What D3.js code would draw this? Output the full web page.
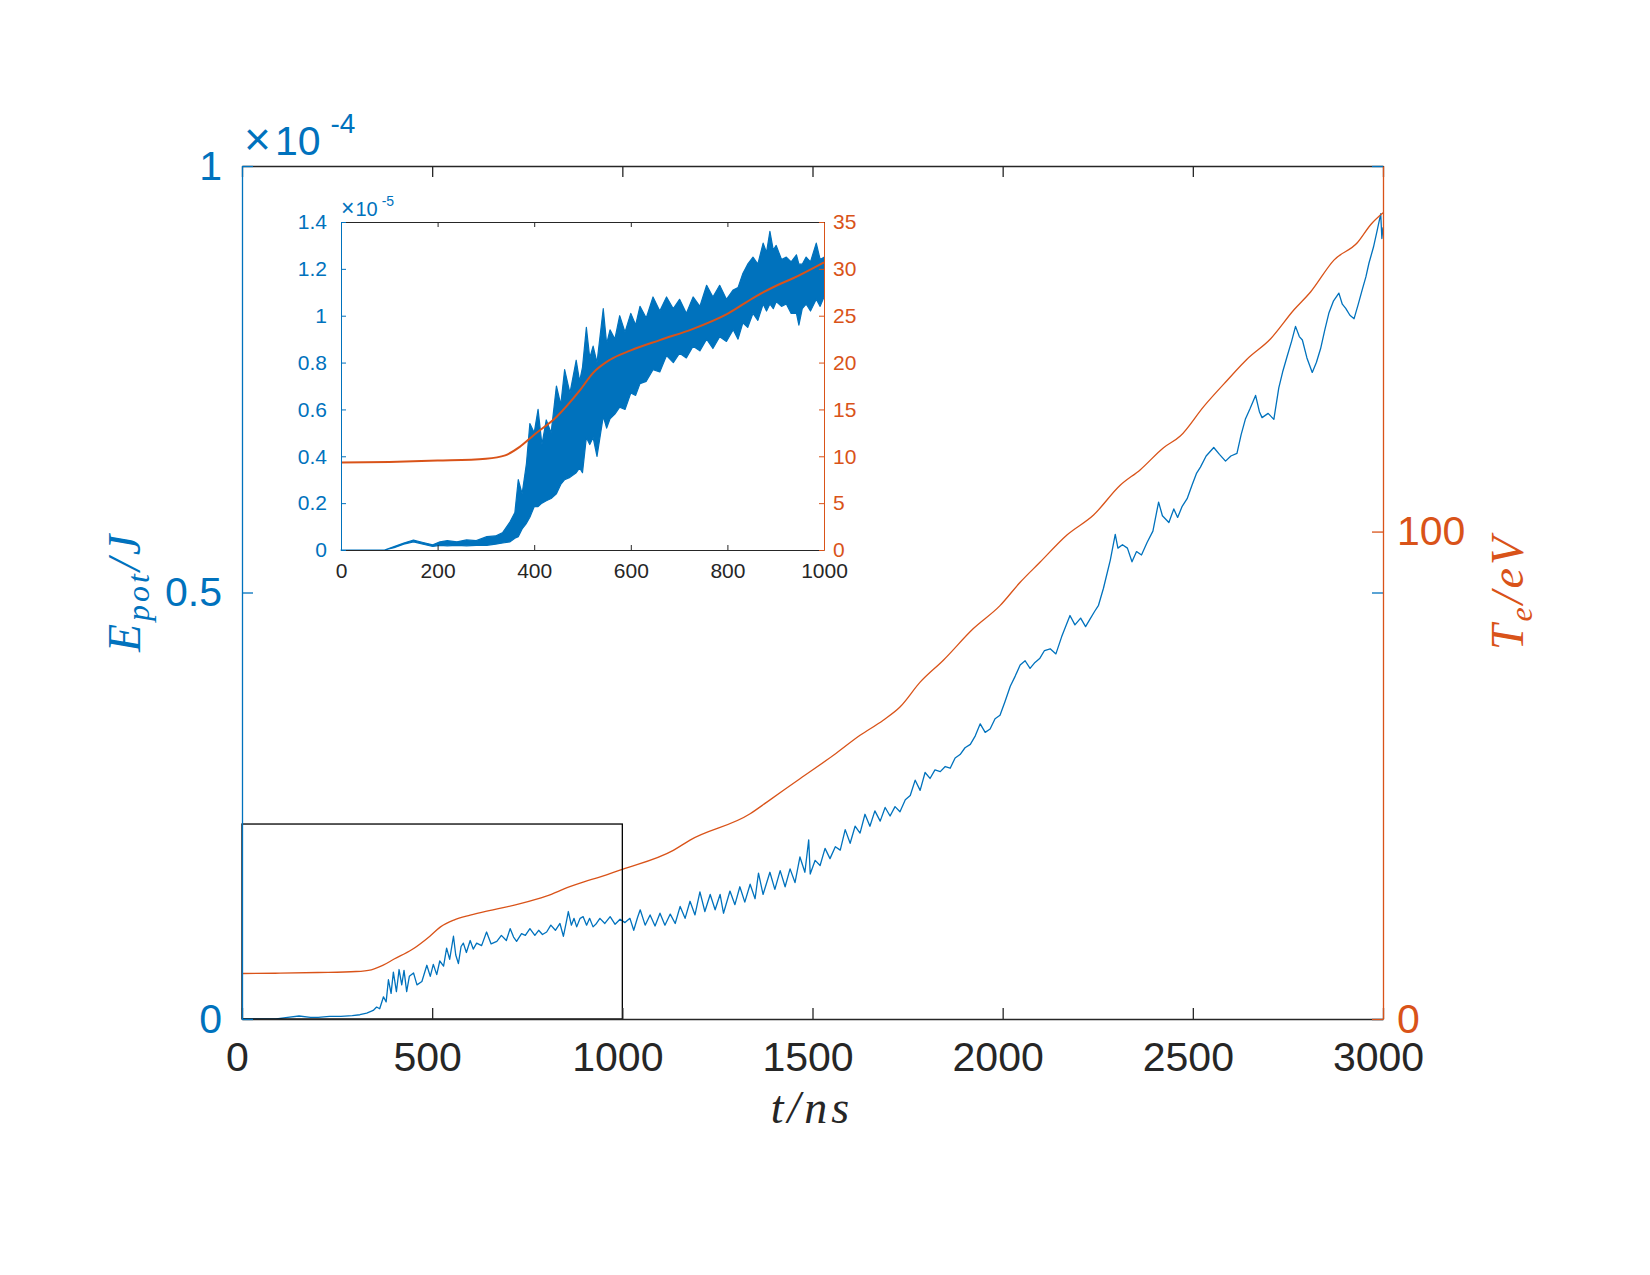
<!DOCTYPE html>
<html>
<head>
<meta charset="utf-8">
<script src="https://cdn.jsdelivr.net/npm/d3@7"></script>
<style>
body { margin: 0; background: #fff; }
</style>
</head>
<body>
<div id="chart"></div>
<script>
// main plot: potential energy (x1e-4 J) vs t (ns)
var tPot = [0, 90, 120, 150, 180, 200, 230, 260, 290, 310, 328, 345, 354, 362, 372, 379, 385, 392, 398, 406, 413, 420, 426, 433, 440, 451, 460, 473, 486, 495, 503, 512, 520, 530, 538, 546, 556, 562, 569, 576, 582, 590, 600, 608, 617, 630, 643, 655, 670, 682, 695, 705, 714, 722, 735, 745, 757, 770, 780, 790, 801, 812, 824, 836, 845, 852, 858, 866, 873, 880, 889, 897, 906, 914, 923, 932,
  941, 954, 968, 981, 994, 1007, 1020, 1030, 1040, 1047, 1060, 1073, 1086, 1099, 1112, 1126, 1139, 1152, 1165, 1178, 1191, 1204, 1217, 1231, 1244, 1257, 1266, 1283, 1296, 1309, 1322, 1336, 1349, 1358, 1370, 1388, 1401, 1415, 1428, 1441, 1454, 1467, 1480, 1490, 1494, 1507, 1520, 1533, 1546, 1560, 1573, 1586, 1599, 1612, 1625, 1638, 1651, 1664, 1678, 1691, 1704, 1717, 1730, 1744, 1757, 1770, 1783, 1796, 1809, 1822, 1836, 1849, 1862, 1875, 1888, 1901, 1915, 1928, 1941, 1954, 1967, 1980, 1993, 2006, 2020, 2033, 2046, 2059, 2072, 2085,
  2098, 2110, 2125, 2140, 2155, 2177, 2190, 2205, 2218, 2230, 2242, 2252, 2265, 2283, 2296, 2303, 2315, 2328, 2340, 2352, 2365, 2380, 2395, 2410, 2420, 2437, 2450, 2460, 2472, 2485, 2498, 2510, 2520, 2535, 2555, 2570, 2586, 2600, 2616, 2627, 2638, 2650, 2665, 2675, 2682, 2698, 2713, 2726, 2737, 2748, 2760, 2770, 2780, 2788, 2800, 2814, 2825, 2836, 2847, 2858, 2870, 2884, 2893, 2902, 2913, 2924, 2935, 2946, 2955, 2963, 2975, 2985, 2994, 2997, 3000];
var ePot = [0, 0, 0.002, 0.0035, 0.002, 0.002, 0.003, 0.003, 0.004, 0.005, 0.007, 0.010, 0.014, 0.012, 0.026, 0.020, 0.046, 0.030, 0.055, 0.032, 0.058, 0.040, 0.057, 0.032, 0.050, 0.054, 0.040, 0.044, 0.063, 0.050, 0.064, 0.052, 0.068, 0.062, 0.083, 0.070, 0.097, 0.075, 0.065, 0.085, 0.089, 0.078, 0.092, 0.082, 0.089, 0.086, 0.102, 0.088, 0.091, 0.098, 0.092, 0.106, 0.096, 0.091, 0.100, 0.098, 0.106, 0.098, 0.104, 0.099, 0.102, 0.110, 0.104, 0.112, 0.097, 0.112, 0.126, 0.110, 0.118, 0.108, 0.118, 0.120, 0.110, 0.118, 0.108, 0.112,
  0.118, 0.112, 0.120, 0.111, 0.117, 0.113, 0.118, 0.104, 0.119, 0.128, 0.110, 0.122, 0.109, 0.124, 0.110, 0.123, 0.112, 0.132, 0.118, 0.138, 0.122, 0.149, 0.126, 0.146, 0.128, 0.146, 0.124, 0.150, 0.134, 0.155, 0.137, 0.158, 0.141, 0.171, 0.146, 0.172, 0.152, 0.174, 0.155, 0.176, 0.160, 0.190, 0.172, 0.210, 0.170, 0.186, 0.180, 0.200, 0.188, 0.202, 0.198, 0.222, 0.206, 0.226, 0.218, 0.240, 0.226, 0.244, 0.232, 0.248, 0.238, 0.249, 0.243, 0.257, 0.262, 0.280, 0.268, 0.289, 0.282, 0.292, 0.290, 0.296, 0.294, 0.306, 0.310, 0.318, 0.322, 0.332, 0.346, 0.336, 0.340, 0.352, 0.356, 0.372, 0.390, 0.402, 0.415, 0.420, 0.411, 0.418,
  0.423, 0.432, 0.434, 0.428, 0.448, 0.473, 0.462, 0.470, 0.460, 0.469, 0.478, 0.485, 0.505, 0.538, 0.568, 0.552, 0.556, 0.552, 0.536, 0.548, 0.544, 0.559, 0.572, 0.606, 0.590, 0.582, 0.598, 0.588, 0.601, 0.610, 0.626, 0.640, 0.647, 0.660, 0.670, 0.662, 0.654, 0.660, 0.663, 0.685, 0.703, 0.715, 0.731, 0.712, 0.705, 0.710, 0.703, 0.740, 0.760, 0.777, 0.795, 0.812, 0.800, 0.796, 0.775, 0.758, 0.770, 0.786, 0.808, 0.828, 0.842, 0.851, 0.838, 0.833, 0.825, 0.821, 0.838, 0.856, 0.870, 0.886, 0.905, 0.925, 0.944, 0.915, 0.928];

// electron temperature (eV) vs t (ns)
var tTemp = [0, 100, 200, 300, 340, 370, 400, 446, 494, 522, 557, 600, 660, 729, 800, 860, 901, 936, 1000, 1134, 1178, 1336, 1380, 1467, 1555, 1625, 1686, 1730, 1783, 1844, 1923, 1993, 2046, 2098, 2169, 2239, 2309, 2362, 2423, 2467, 2529, 2590, 2643, 2704, 2766, 2810, 2871, 2933, 2968, 3000];
var tempE = [9.33, 9.40, 9.54, 9.75, 10.1, 11.0, 12.3, 14.2, 17.0, 18.9, 20.3, 21.3, 22.4, 23.6, 25.2, 27.1, 28.2, 29.0, 30.7, 34.6, 36.7, 42.1, 44.5, 49.3, 54.1, 58.2, 61.3, 64.0, 69.1, 73.6, 80.1, 84.8, 89.6, 93.7, 99.3, 103.4, 109.5, 112.7, 117.2, 119.6, 125.7, 131.0, 135.4, 139.5, 145.5, 149.2, 155.7, 159.3, 163.0, 165.4];

// inset: envelope of the full resolution E_pot signal (x1e-5 J)
var tInset = [0, 90, 110, 130, 150, 170, 190, 205, 220, 240, 260, 280, 302, 320, 335, 350, 360, 367, 375, 384, 391, 400, 408, 416, 425, 435, 446, 455, 463, 474, 487, 494, 500, 508, 515, 522, 530, 543, 550, 557, 567, 577, 588, 600, 610, 619, 632, 646, 660, 674, 688, 701, 715, 729, 743, 757, 770, 784, 798, 812, 822, 832, 842, 853, 863, 874, 881, 888, 895, 901, 912, 922, 932, 943, 948, 955, 963, 972, 984, 992, 1000];
var ePotLow = [0, 0, 0.010, 0.025, 0.035, 0.025, 0.015, 0.020, 0.018, 0.020, 0.018, 0.020, 0.020, 0.025, 0.030, 0.035, 0.050, 0.057, 0.090, 0.114, 0.140, 0.185, 0.185, 0.200, 0.210, 0.220, 0.240, 0.280, 0.300, 0.310, 0.330, 0.350, 0.330, 0.480, 0.450, 0.480, 0.400, 0.570, 0.520, 0.560, 0.580, 0.610, 0.600, 0.670, 0.660, 0.710, 0.720, 0.770, 0.760, 0.830, 0.800, 0.840, 0.820, 0.870, 0.850, 0.900, 0.860, 0.910, 0.890, 0.940, 0.900, 0.970, 0.950, 1.010, 0.980, 1.050, 1.020, 1.050, 1.030, 1.060, 1.040, 1.050, 1.010, 1.010, 0.960, 1.030, 1.050, 1.020, 1.070, 1.040, 1.080];
var ePotHigh = [0, 0, 0.015, 0.030, 0.042, 0.032, 0.022, 0.035, 0.040, 0.035, 0.043, 0.040, 0.057, 0.060, 0.075, 0.120, 0.160, 0.300, 0.240, 0.370, 0.540, 0.500, 0.600, 0.450, 0.555, 0.500, 0.700, 0.620, 0.770, 0.670, 0.810, 0.720, 0.780, 0.950, 0.820, 0.870, 0.800, 1.030, 0.880, 0.940, 0.900, 1.000, 0.930, 1.010, 0.960, 1.040, 0.990, 1.080, 1.020, 1.080, 1.030, 1.070, 1.010, 1.080, 1.040, 1.130, 1.080, 1.130, 1.070, 1.110, 1.120, 1.180, 1.220, 1.250, 1.220, 1.310, 1.270, 1.360, 1.280, 1.300, 1.240, 1.250, 1.230, 1.260, 1.220, 1.220, 1.250, 1.230, 1.310, 1.240, 1.250];

// zoom box drawn on the main plot (t range, T_e range)
var boxT = [0, 1000];
var boxTemp = [0, 40];

var xTicks = [0, 500, 1000, 1500, 2000, 2500, 3000];
var yTicksLeft = [0, 0.5, 1];
var yTicksRight = [0, 100];
var xTicksInset = [0, 200, 400, 600, 800, 1000];
var yTicksLeftInset = [0, 0.2, 0.4, 0.6, 0.8, 1, 1.2, 1.4];
var yTicksRightInset = [0, 5, 10, 15, 20, 25, 30, 35];

var blue = '#0072BD', orange = '#D95319', dark = '#262626';
var sans = '"Liberation Sans", Arial, Helvetica, sans-serif';
var serif = '"Liberation Serif", "Times New Roman", serif';

var fmt = function(d){ return String(+d.toFixed(1)); };

var svg = d3.select('#chart').append('svg')
    .attr('width', 1650)
    .attr('height', 1275)
    .style('background', '#fff');

function styleAxis(g, color, size, width){
  g.attr('font-family', sans).attr('font-size', size);
  g.select('.domain').attr('stroke', color).attr('stroke-width', width);
  g.selectAll('.tick line').attr('stroke', color).attr('stroke-width', width);
  g.selectAll('.tick text').attr('fill', color);
}

function createMainChart(){
  var x = d3.scaleLinear().domain([0, 3000]).range([242, 1383]);
  var yL = d3.scaleLinear().domain([0, 1]).range([1019, 166]);
  var yR = d3.scaleLinear().domain([0, 175]).range([1019, 166]);

  var potLine = d3.line()
      .x(function(d, i){ return x(tPot[i]); })
      .y(function(d){ return yL(d); });
  svg.append('path')
      .datum(ePot)
      .attr('d', potLine)
      .attr('fill', 'none')
      .attr('stroke', blue)
      .attr('stroke-width', 1.3)
      .attr('stroke-linejoin', 'round');

  var tempLine = d3.line()
      .x(function(d, i){ return x(tTemp[i]); })
      .y(function(d){ return yR(d); })
      .curve(d3.curveMonotoneX);
  svg.append('path')
      .datum(tempE)
      .attr('d', tempLine)
      .attr('fill', 'none')
      .attr('stroke', orange)
      .attr('stroke-width', 1.3);

  // zoom box
  svg.append('rect')
      .attr('x', x(boxT[0]))
      .attr('y', yR(boxTemp[1]))
      .attr('width', x(boxT[1]) - x(boxT[0]))
      .attr('height', yR(boxTemp[0]) - yR(boxTemp[1]))
      .attr('fill', 'none')
      .attr('stroke', '#000')
      .attr('stroke-width', 1.3);

  var gTop = svg.append('g').attr('transform', 'translate(0,166)')
      .call(d3.axisTop(x).tickValues(xTicks).tickSize(-11).tickSizeOuter(0).tickFormat(''));
  styleAxis(gTop, dark, 41, 1.3);

  var gBottom = svg.append('g').attr('transform', 'translate(0,1019)')
      .call(d3.axisBottom(x).tickValues(xTicks).tickSize(-11).tickSizeOuter(0).tickPadding(23).tickFormat(d3.format('d')));
  styleAxis(gBottom, dark, 41, 1.3);
  gBottom.selectAll('.tick text').attr('dx', -5);

  var gLeft = svg.append('g').attr('transform', 'translate(242,0)')
      .call(d3.axisLeft(yL).tickValues(yTicksLeft).tickSize(-11).tickSizeOuter(0).tickPadding(20).tickFormat(fmt));
  styleAxis(gLeft, blue, 41, 1.3);

  // left ruler ticks repeated on the right side
  var gMirror = svg.append('g').attr('transform', 'translate(1383,0)')
      .call(d3.axisRight(yL).tickValues(yTicksLeft).tickSize(-11).tickSizeOuter(0).tickFormat(''));
  styleAxis(gMirror, blue, 41, 1.3);
  gMirror.select('.domain').remove();

  var gRight = svg.append('g').attr('transform', 'translate(1383,0)')
      .call(d3.axisRight(yR).tickValues(yTicksRight).tickSize(-11).tickSizeOuter(0).tickPadding(14).tickFormat(d3.format('d')));
  styleAxis(gRight, orange, 41, 1.3);

  // exponent x10^-4
  var ex = svg.append('text')
      .attr('x', 244)
      .attr('y', 155)
      .attr('font-family', sans)
      .attr('font-size', 41)
      .attr('fill', blue);
  ex.append('tspan').attr('font-size', 46).text('\u00D7');
  ex.append('tspan').attr('dx', 4).text('10');
  ex.append('tspan').attr('dx', 10).attr('dy', -22).attr('font-size', 28).text('-4');

  // axis labels
  svg.append('text')
      .attr('x', 812)
      .attr('y', 1123)
      .attr('text-anchor', 'middle')
      .attr('font-family', serif)
      .attr('font-style', 'italic')
      .attr('font-size', 46)
      .attr('letter-spacing', 4)
      .attr('fill', dark)
      .text('t/ns');

  var yl = svg.append('text')
      .attr('transform', 'translate(140,592) rotate(-90)')
      .attr('text-anchor', 'middle')
      .attr('font-family', serif)
      .attr('font-style', 'italic')
      .attr('font-size', 46)
      .attr('letter-spacing', 3)
      .attr('fill', blue);
  yl.append('tspan').text('E');
  yl.append('tspan').attr('font-size', 32).attr('dy', 9).text('pot');
  yl.append('tspan').attr('dy', -9).text('/J');

  var yr = svg.append('text')
      .attr('transform', 'translate(1523,592) rotate(-90)')
      .attr('text-anchor', 'middle')
      .attr('font-family', serif)
      .attr('font-style', 'italic')
      .attr('font-size', 46)
      .attr('letter-spacing', 3)
      .attr('fill', orange);
  yr.append('tspan').text('T');
  yr.append('tspan').attr('font-size', 32).attr('dy', 9).text('e');
  yr.append('tspan').attr('dy', -9).text('/eV');
}

function createInsetChart(){
  var x = d3.scaleLinear().domain([0, 1000]).range([341, 824]);
  var yL = d3.scaleLinear().domain([0, 1.4]).range([550, 222]);
  var yR = d3.scaleLinear().domain([0, 35]).range([550, 222]);

  svg.append('rect')
      .attr('x', 341).attr('y', 222)
      .attr('width', 483).attr('height', 328)
      .attr('fill', '#fff');

  var band = d3.area()
      .x(function(d, i){ return x(tInset[i]); })
      .y0(function(d, i){ return yL(ePotLow[i]); })
      .y1(function(d){ return yL(d); });
  svg.append('path')
      .datum(ePotHigh)
      .attr('d', band)
      .attr('fill', blue)
      .attr('stroke', blue)
      .attr('stroke-width', 1.2)
      .attr('stroke-linejoin', 'round');

  var tIn = tTemp.filter(function(d){ return d <= 1000; });
  var tempLine = d3.line()
      .x(function(d){ return x(d); })
      .y(function(d, i){ return yR(tempE[i]); })
      .curve(d3.curveMonotoneX);
  svg.append('path')
      .datum(tIn)
      .attr('d', tempLine)
      .attr('fill', 'none')
      .attr('stroke', orange)
      .attr('stroke-width', 2);

  var gTop = svg.append('g').attr('transform', 'translate(0,222)')
      .call(d3.axisTop(x).tickValues(xTicksInset).tickSize(-5).tickSizeOuter(0).tickFormat(''));
  styleAxis(gTop, dark, 21, 1);

  var gBottom = svg.append('g').attr('transform', 'translate(0,550)')
      .call(d3.axisBottom(x).tickValues(xTicksInset).tickSize(-5).tickSizeOuter(0).tickPadding(13).tickFormat(d3.format('d')));
  styleAxis(gBottom, dark, 21, 1);

  var gLeft = svg.append('g').attr('transform', 'translate(341,0)')
      .call(d3.axisLeft(yL).tickValues(yTicksLeftInset).tickSize(-5).tickSizeOuter(0).tickPadding(14).tickFormat(fmt));
  styleAxis(gLeft, blue, 21, 1);

  var gRight = svg.append('g').attr('transform', 'translate(824,0)')
      .call(d3.axisRight(yR).tickValues(yTicksRightInset).tickSize(-5).tickSizeOuter(0).tickPadding(9).tickFormat(d3.format('d')));
  styleAxis(gRight, orange, 21, 1);

  var ex = svg.append('text')
      .attr('x', 341)
      .attr('y', 216)
      .attr('font-family', sans)
      .attr('font-size', 20)
      .attr('fill', blue);
  ex.append('tspan').attr('font-size', 23).text('\u00D7');
  ex.append('tspan').attr('dx', 1).text('10');
  ex.append('tspan').attr('dx', 4).attr('dy', -10).attr('font-size', 14).text('-5');
}

createMainChart();
createInsetChart();
</script>
</body>
</html>
